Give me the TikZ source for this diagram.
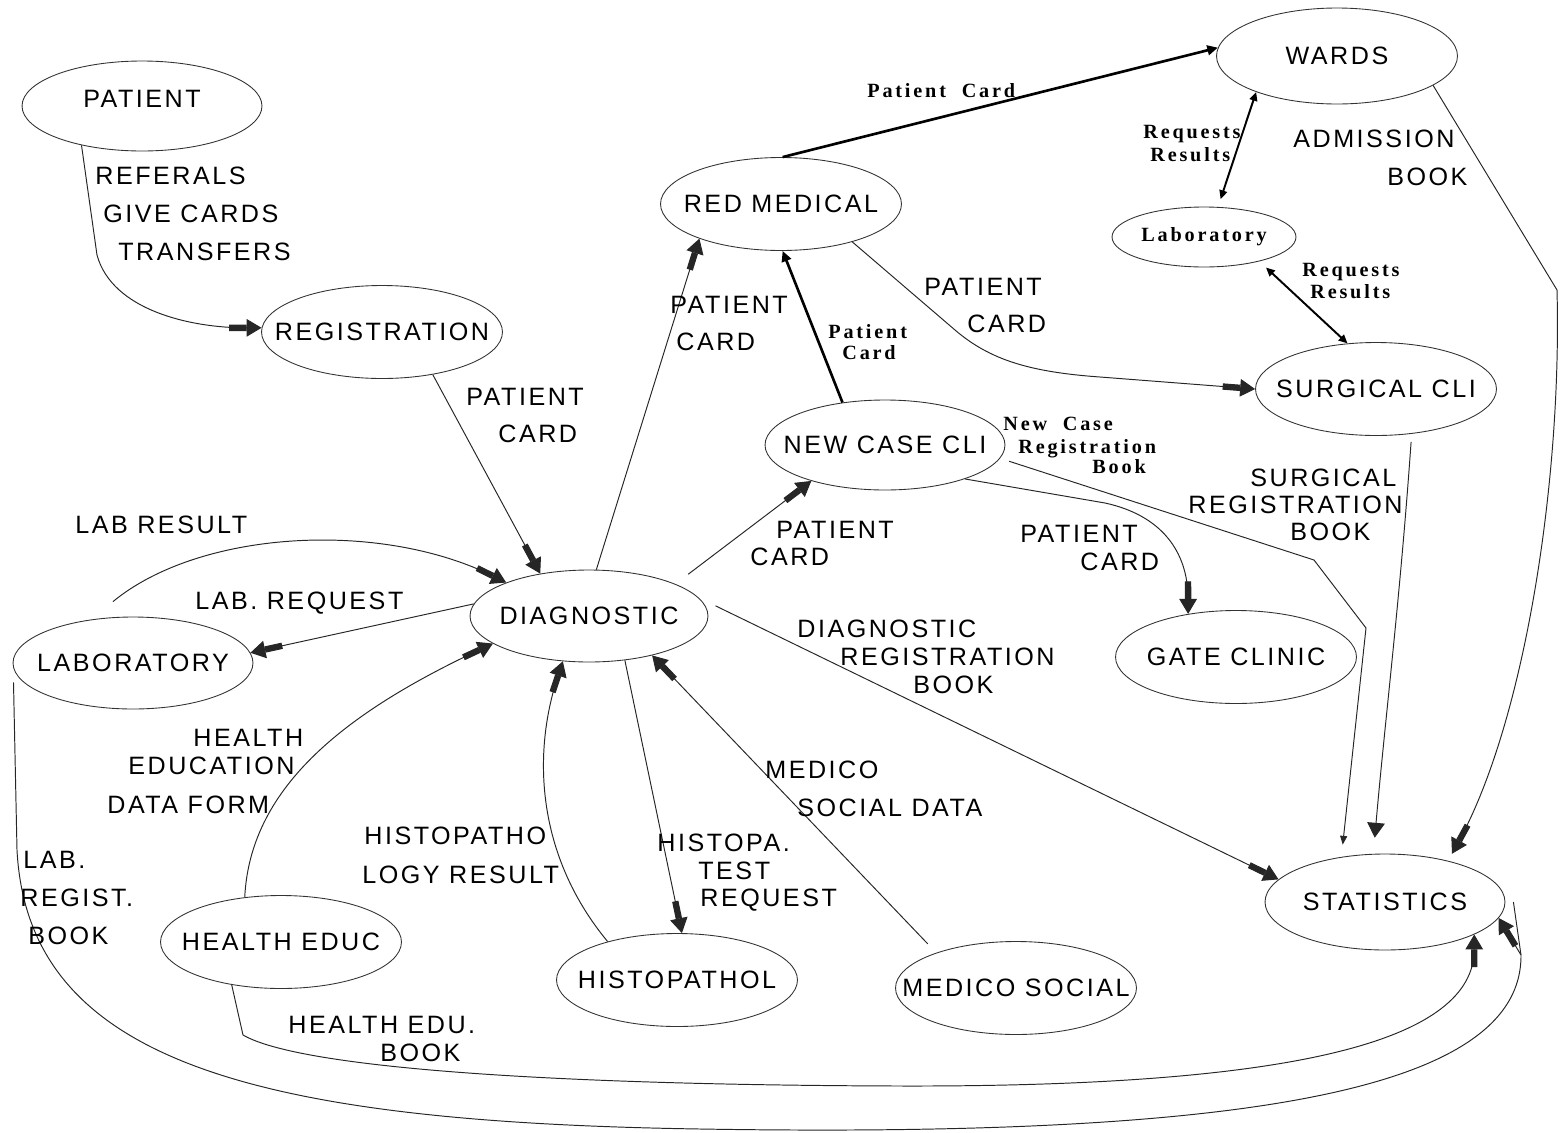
\documentclass[tikz,border=0pt]{standalone}
\usepackage{fontspec}
\usetikzlibrary{shapes.geometric,arrows.meta}
\newfontfamily\capsf[LetterSpace=10]{Liberation Sans}
\newfontfamily\serf[LetterSpace=14]{Liberation Serif}
\newcommand\capsfont{\capsf\fontsize{14.3}{16}\selectfont}
\newcommand\serfont{\serf\bfseries\fontsize{11.5}{13}\selectfont}
\newcommand\ztxt[1]{\makebox[0pt]{#1}}
\begin{document}
\begin{tikzpicture}[x=0.02cm,y=-0.02cm,
  proc/.style={draw=black!80, line width=0.5pt, ellipse, inner sep=0pt,
               minimum width=4.82cm, minimum height=1.86cm, font=\capsfont},
  capl/.style={font=\capsfont, inner sep=0pt, anchor=base west, yshift=-5pt},
  serl/.style={font=\serfont, inner sep=0pt, anchor=base west, yshift=-3.8pt},
  flow/.style={draw=black!85, line width=0.55pt},
  bigarrow/.style={flow, -{Rectangle[length=10pt,width=3.6pt,sep=0pt]Triangle[length=8.5pt,width=10pt,sep=0pt]}},
  triarrow/.style={flow, -{Triangle[length=8.5pt,width=10pt]}},
  smallarrow/.style={flow, -{Triangle[length=5pt,width=4pt]}},
  thickarrow/.style={draw=black, line width=1.5pt, -{Triangle[length=6pt,width=5.5pt]}},
  dblarrow/.style={draw=black, line width=1.1pt, {Triangle[length=5pt,width=4.5pt]}-{Triangle[length=5pt,width=4.5pt]}}
]
\path[use as bounding box] (0,0) rectangle (1560,1133);

% ---------- processes ----------
\node[proc, minimum width=4.8cm, minimum height=1.8cm, text depth=8pt] (pat) at (142,106) {\ztxt{PATIENT}};
\node[proc] (reg) at (382,332) {\ztxt{REGISTRATION}};
\node[proc] (red) at (781,204) {\ztxt{RED MEDICAL}};
\node[proc, minimum height=1.92cm] (wards) at (1337,56) {\ztxt{WARDS}};
\node[proc, minimum width=3.68cm, minimum height=1.2cm, font=\serfont] (lab2) at (1204,237) {\ztxt{Laboratory}};
\node[proc] (surg) at (1376,389) {\ztxt{SURGICAL CLI}};
\node[proc, minimum width=4.8cm, minimum height=1.8cm] (newc) at (885,445) {\ztxt{NEW CASE CLI}};
\node[proc, minimum width=4.76cm, minimum height=1.84cm] (diag) at (589,616) {\ztxt{DIAGNOSTIC}};
\node[proc, minimum width=4.8cm, minimum height=1.84cm] (lab) at (133,663) {\ztxt{LABORATORY}};
\node[proc] (gate) at (1236,657) {\ztxt{GATE CLINIC}};
\node[proc, minimum width=4.8cm, minimum height=1.92cm] (stat) at (1385,902) {\ztxt{STATISTICS}};
\node[proc] (hed) at (281,942) {\ztxt{HEALTH EDUC}};
\node[proc] (histo) at (677,980) {\ztxt{HISTOPATHOL}};
\node[proc] (med) at (1016,988) {\ztxt{MEDICO SOCIAL}};

% ---------- connectors ----------
\draw[bigarrow] (pat.213) -- (97,255) .. controls (112,310) and (190,328) .. (reg.178);
\draw[bigarrow] (reg.-40) -- (diag.139);
\draw[bigarrow] ([shift={(-20,-15)}]lab.north) .. controls (200,530) and (380,520) .. (diag.158);
\draw[bigarrow] (diag.174) -- (lab.5);
\draw[bigarrow] (hed.129) .. controls (250,790) and (340,715) .. (diag.196);
\draw[bigarrow] (histo.151) .. controls (540,860) and (530,760) .. (diag.240);
\draw[bigarrow] (diag.-51) -- (histo.84);
\draw[bigarrow] ([shift={(0,-12)}]med.160) -- (diag.-32);
\draw[bigarrow] ([shift={(10,0)}]diag.5) -- (stat.168);
\draw[bigarrow] (diag.81) -- (red.203);
\draw[bigarrow] ([shift={(12,-10)}]diag.20) -- (newc.206);
\draw[thickarrow] (newc.135) -- (red.-88);
\draw[thickarrow] (red.88) -- (wards.176);
\draw[bigarrow] (red.-28) -- (955,330) .. controls (990,360) and (1030,372) .. (1100,377) -- (surg.180);
\draw[bigarrow] (newc.-23) -- (1105,503) .. controls (1160,515) and (1188,550) .. (gate.138);
\draw[smallarrow] ([shift={(15,-3)}]newc.-10) -- (1314,560) -- (1366,628) -- ([shift={(0,-12)}]stat.133);
\draw[triarrow] ([shift={(0,8)}]surg.-52) .. controls (1400,600) and (1385,720) .. ([shift={(0,-16)}]stat.102);
\draw[bigarrow] (wards.-17) -- (1557,290) .. controls (1562,480) and (1525,720) .. ([shift={(0,-8)}]stat.31);
\draw[dblarrow] (wards.204) -- ([shift={(0,-8)}]lab2.61);
\draw[dblarrow] ([shift={(0,8)}]lab2.-20) -- (surg.122);
\draw[bigarrow] (hed.221) -- (243,1035) .. controls (300,1068) and (550,1085) .. (900,1086)
   .. controls (1300,1087) and (1474,1040) .. (stat.-20);
\coordinate (vfork) at (1521,955);
\draw[flow] ([shift={(-10,0)}]lab.190) -- (17,850) .. controls (28,1060) and (250,1122) .. (700,1129)
   .. controls (1250,1138) and (1522,1090) .. (vfork) -- ([shift={(8,0)}]stat.0);
\draw[bigarrow] (vfork) -- (stat.-8);

% ---------- labels ----------
\node[capl] (t1) at (95,176) {REFERALS};
\node[capl] (t2) at (103,214) {GIVE CARDS};
\node[capl] (t3) at (118,252) {TRANSFERS};
\node[capl] (t4) at (466,397) {PATIENT};
\node[capl] (t5) at (498,434) {CARD};
\node[capl] (t6) at (75,525) {LAB RESULT};
\node[capl] (t7) at (195,601) {LAB. REQUEST};
\node[capl] (t8) at (193,738) {HEALTH};
\node[capl] (t9) at (128,766) {EDUCATION};
\node[capl] (t10) at (107,805) {DATA FORM};
\node[capl] (t11) at (23,860) {LAB.};
\node[capl] (t12) at (20,898) {REGIST.};
\node[capl] (t13) at (28,936) {BOOK};
\node[capl] (t14) at (364,836) {HISTOPATHO};
\node[capl] (t15) at (362,875) {LOGY RESULT};
\node[capl] (t16) at (657,843) {HISTOPA.};
\node[capl] (t17) at (698,871) {TEST};
\node[capl] (t18) at (700,898) {REQUEST};
\node[capl] (t19) at (765,770) {MEDICO};
\node[capl] (t20) at (797,808) {SOCIAL DATA};
\node[capl] (t21) at (288,1025) {HEALTH EDU.};
\node[capl] (t22) at (380,1053) {BOOK};
\node[capl] (t23) at (797,629) {DIAGNOSTIC};
\node[capl] (t24) at (840,657) {REGISTRATION};
\node[capl] (t25) at (913,685) {BOOK};
\node[capl] (t26) at (670,305) {PATIENT};
\node[capl] (t27) at (676,342) {CARD};
\node[capl] (t28) at (776,530) {PATIENT};
\node[capl] (t29) at (750,557) {CARD};
\node[capl] (t30) at (924,287) {PATIENT};
\node[capl] (t31) at (967,324) {CARD};
\node[capl] (t32) at (1020,534) {PATIENT};
\node[capl] (t33) at (1080,562) {CARD};
\node[capl] (t34) at (1250,478) {SURGICAL};
\node[capl] (t35) at (1188,505) {REGISTRATION};
\node[capl] (t36) at (1290,532) {BOOK};
\node[capl] (t37) at (1293,139) {ADMISSION};
\node[capl] (t38) at (1387,177) {BOOK};
\node[serl] (s1) at (867,91) {Patient\ \ Card};
\node[serl] (s2) at (828,332) {Patient};
\node[serl] (s3) at (842,353) {Card};
\node[serl] (s4) at (1143,132) {Requests};
\node[serl] (s5) at (1150,155) {Results};
\node[serl] (s6) at (1302,270) {Requests};
\node[serl] (s7) at (1310,292) {Results};
\node[serl] (s8) at (1003,424) {New\ \ Case};
\node[serl] (s9) at (1018,447) {Registration};
\node[serl] (s10) at (1092,467) {Book};
\end{tikzpicture}
\end{document}
